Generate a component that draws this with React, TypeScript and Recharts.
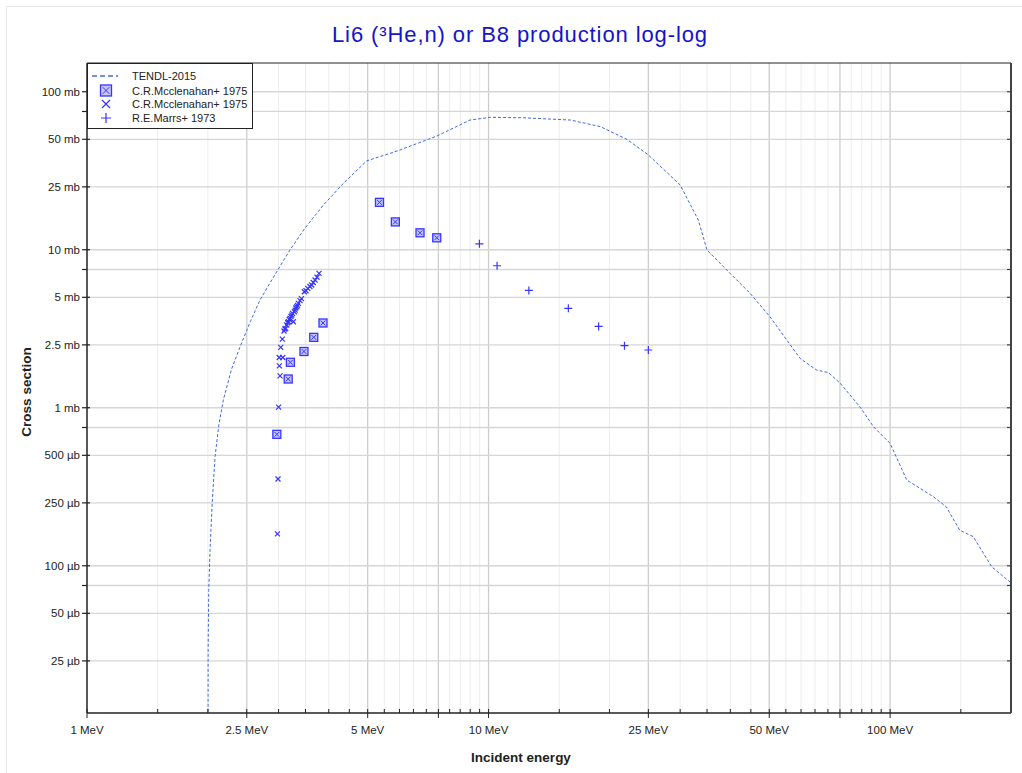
import { ComposedChart, Line, Scatter, XAxis, YAxis, ReferenceLine, Legend } from 'recharts'

// TENDL-2015 evaluated curve (MeV, mb)
const tendlEnergy = [
  2.0, 2.003, 2.01, 2.025, 2.05, 2.084, 2.13, 2.185, 2.29, 2.405, 2.55, 2.697, 2.884, 3.2, 3.49, 3.88,
  4.35, 4.97, 5.68, 6.02, 7.43, 8.99, 10.1, 12.2, 16, 19, 22.1, 25, 30, 33.3, 35, 39.2, 44.8, 50.2,
  59.7, 65.7, 70.2, 75.1, 84.2, 90.9, 100, 110, 128, 138, 149, 161, 179, 200,
]
const tendlSigma = [
  0.001, 0.03, 0.07, 0.126, 0.25, 0.49, 0.78, 1.12, 1.75, 2.43, 3.5, 4.81, 6.43, 9.95, 13.7, 19.2,
  26.3, 36.5, 40.7, 42.8, 52.4, 66.2, 68.9, 68.4, 66.2, 60.1, 50, 39.8, 25.7, 15.4, 9.95, 7.44, 5.3, 3.77,
  2.05, 1.73, 1.67, 1.43, 1.01, 0.758, 0.595, 0.349, 0.274, 0.236, 0.168, 0.153, 0.0986, 0.078,
]

// C.R.Mcclenahan+ 1975 (boxed)
const mccBoxEnergy = [2.97, 3.17, 3.21, 3.47, 3.67, 3.87, 5.35, 5.86, 6.75, 7.43]
const mccBoxSigma = [0.679, 1.52, 1.94, 2.27, 2.79, 3.44, 19.95, 15.0, 12.8, 11.9]

// C.R.Mcclenahan+ 1975 (crosses)
const mccXEnergy = [
  2.98, 2.99, 3.0, 3.025, 3.013, 3.01, 3.073, 3.037, 3.065, 3.095, 3.11, 3.126, 3.144, 3.16, 3.173,
  3.19, 3.204, 3.22, 3.235, 3.265, 3.25, 3.284, 3.3, 3.31, 3.329, 3.345, 3.36, 3.393, 3.42, 3.477,
  3.51, 3.546, 3.59, 3.628, 3.66, 3.698, 3.74, 3.783,
]
const mccXSigma = [
  0.159, 0.354, 1.01, 1.59, 1.84, 2.08, 2.08, 2.41, 2.72, 3.06, 3.15, 3.18, 3.34, 3.45, 3.5,
  3.62, 3.68, 3.78, 3.86, 3.5, 3.95, 4.05, 4.15, 4.28, 4.36, 4.45, 4.58, 4.76, 4.9, 5.42,
  5.5, 5.7, 5.85, 5.98, 6.2, 6.43, 6.7, 7.09,
]

// R.E.Marrs+ 1973
const marrsEnergy = [9.49, 10.5, 12.6, 15.8, 18.8, 21.8, 25.0]
const marrsSigma = [10.9, 7.92, 5.53, 4.26, 3.27, 2.47, 2.32]

const seriesNames = ['TENDL-2015', 'C.R.Mcclenahan+ 1975', 'C.R.Mcclenahan+ 1975', 'R.E.Marrs+ 1973']

const xTicks = [
  1, 1.5, 2, 2.5, 3, 3.5, 4, 4.5, 5, 5.5, 6, 6.5, 7, 7.5, 8, 8.5, 9, 9.5, 10, 15, 20, 25, 30, 35, 40,
  45, 50, 55, 60, 65, 70, 75, 80, 85, 90, 95, 100, 150,
]
const xMajor = [1, 2.5, 5, 7.5, 10, 25, 50, 75, 100]
const xLabelValues = [1, 2.5, 5, 10, 25, 50, 100]
const xLabelTexts = ['1 MeV', '2.5 MeV', '5 MeV', '10 MeV', '25 MeV', '50 MeV', '100 MeV']

const yTicks = [100, 75, 50, 25, 10, 7.5, 5, 2.5, 1, 0.75, 0.5, 0.25, 0.1, 0.075, 0.05, 0.025]
const yTickLabels = [
  '100 mb', '', '50 mb', '25 mb', '10 mb', '', '5 mb', '2.5 mb', '1 mb', '', '500 µb', '250 µb',
  '100 µb', '', '50 µb', '25 µb',
]

const zip = (es: number[], ss: number[]) => es.map((e, i) => ({ e, s: ss[i] }))
const tendl = zip(tendlEnergy, tendlSigma)
const mccBox = zip(mccBoxEnergy, mccBoxSigma)
const mccX = zip(mccXEnergy, mccXSigma)
const marrs = zip(marrsEnergy, marrsSigma)

const BLUE = '#3535ff'
const LINE_BLUE = '#4169e1'
const INK = '#222'

const BoxX = ({ cx, cy, r = 4 }: any) => {
  const k = r * 0.6
  return (
    <g>
      <rect x={cx - r} y={cy - r} width={2 * r} height={2 * r} fill="#c4c4ff" stroke={BLUE} strokeWidth={1.3} />
      <path d={`M${cx - k},${cy - k}L${cx + k},${cy + k}M${cx + k},${cy - k}L${cx - k},${cy + k}`} stroke={BLUE} strokeWidth={1} />
    </g>
  )
}

const Cross = ({ cx, cy, r = 2.5 }: any) => (
  <path d={`M${cx - r},${cy - r}L${cx + r},${cy + r}M${cx + r},${cy - r}L${cx - r},${cy + r}`} stroke={BLUE} strokeWidth={1.2} />
)

const Plus = ({ cx, cy, r = 4 }: any) => (
  <path d={`M${cx - r},${cy}L${cx + r},${cy}M${cx},${cy - r}L${cx},${cy + r}`} stroke={BLUE} strokeWidth={1.2} />
)

const BottomTick = (props: any) => {
  const { x, y, payload } = props
  const v = payload.value
  const li = xLabelValues.indexOf(v)
  const major = xMajor.includes(v)
  return (
    <g>
      <line x1={x} x2={x} y1={y - 4} y2={major ? y + 5 : y} stroke={INK} strokeWidth={1} />
      {li >= 0 && (
        <text x={x} y={y + 21} textAnchor="middle" fontSize={11.5} fill={INK}>
          {xLabelTexts[li]}
        </text>
      )}
    </g>
  )
}

const TopTick = (props: any) => {
  const { x, y } = props
  return <line x1={x} x2={x} y1={y} y2={y + 4} stroke={INK} strokeWidth={1} />
}

const LeftTick = (props: any) => {
  const { x, y, payload } = props
  const i = yTicks.indexOf(payload.value)
  const label = i >= 0 ? yTickLabels[i] : ''
  return (
    <g>
      <line x1={x - 5} x2={label ? x + 3 : x} y1={y} y2={y} stroke={INK} strokeWidth={1.2} />
      {label && (
        <text x={x - 7} y={y + 4} textAnchor="end" fontSize={11.5} fill={INK}>
          {label}
        </text>
      )}
    </g>
  )
}

const RightTick = (props: any) => {
  const { x, y } = props
  return <line x1={x - 4} x2={x} y1={y} y2={y} stroke="#444" strokeWidth={1.2} />
}

const LegendBox = () => {
  const rows = [13, 27.5, 41, 55]
  return (
    <svg width={166} height={66} style={{ display: 'block' }}>
      <rect x={0.5} y={0.5} width={165} height={65} fill="#fff" stroke={INK} strokeWidth={1} />
      <line x1={5} x2={31} y1={rows[0]} y2={rows[0]} stroke={LINE_BLUE} strokeWidth={1.3} strokeDasharray="5 3" />
      <BoxX cx={19} cy={rows[1]} r={5.5} />
      <Cross cx={19} cy={rows[2]} r={4} />
      <Plus cx={19} cy={rows[3]} r={5} />
      {seriesNames.map((n, i) => (
        <text key={i} x={45} y={rows[i] + 4} fontSize={11} fill={INK}>
          {n}
        </text>
      ))}
    </svg>
  )
}

export default function App() {
  return (
    <div
      style={{
        position: 'absolute',
        left: 0,
        top: 0,
        width: 1022,
        height: 773,
        background: '#fff',
        fontFamily: "'Liberation Sans', Arial, Helvetica, sans-serif",
      }}
    >
      <div
        style={{
          position: 'absolute',
          left: 6,
          top: 6,
          width: 1016,
          height: 767,
          borderLeft: '1px solid #e8e8e8',
          borderTop: '1px solid #e8e8e8',
        }}
      />
      <div
        style={{
          position: 'absolute',
          left: 0,
          top: 24,
          width: 1040,
          textAlign: 'center',
          fontSize: 22,
          lineHeight: '22px',
          letterSpacing: 0.9,
          color: '#1414c8',
        }}
      >
        Li6 (³He,n) or B8 production log-log
      </div>
      <div
        style={{
          position: 'absolute',
          left: 27 - 70,
          top: 392 - 9,
          width: 140,
          height: 18,
          lineHeight: '18px',
          textAlign: 'center',
          fontSize: 13.5,
          fontWeight: 'bold',
          color: INK,
          transform: 'rotate(-90deg)',
        }}
      >
        Cross section
      </div>
      <div
        style={{
          position: 'absolute',
          left: 521 - 100,
          top: 749,
          width: 200,
          textAlign: 'center',
          fontSize: 13.5,
          lineHeight: '18px',
          fontWeight: 'bold',
          color: INK,
        }}
      >
        Incident energy
      </div>
      <div style={{ position: 'absolute', left: 0, top: 0 }}>
        <ComposedChart width={1022} height={773} margin={{ top: 62, right: 10, bottom: 59, left: 86 }}>
          <XAxis
            xAxisId="x"
            type="number"
            dataKey="e"
            scale="log"
            domain={[1, 200]}
            allowDataOverflow
            ticks={xTicks}
            interval={0}
            height={1}
            tickSize={0}
            tickMargin={0}
            tickLine={false}
            tick={BottomTick}
            axisLine={{ stroke: INK, strokeWidth: 1.5 }}
          />
          <XAxis
            xAxisId="top"
            orientation="top"
            type="number"
            scale="log"
            domain={[1, 200]}
            allowDataOverflow
            ticks={xTicks}
            interval={0}
            height={1}
            tickSize={0}
            tickMargin={0}
            tickLine={false}
            tick={TopTick}
            axisLine={{ stroke: INK, strokeWidth: 1 }}
          />
          <YAxis
            yAxisId="y"
            type="number"
            dataKey="s"
            scale="log"
            domain={[0.0117, 152]}
            allowDataOverflow
            ticks={yTicks}
            interval={0}
            width={1}
            tickSize={0}
            tickMargin={0}
            tickLine={false}
            tick={LeftTick}
            axisLine={{ stroke: INK, strokeWidth: 1.5 }}
          />
          <YAxis
            yAxisId="r"
            orientation="right"
            type="number"
            scale="log"
            domain={[0.0117, 152]}
            allowDataOverflow
            ticks={yTicks}
            interval={0}
            width={1}
            tickSize={0}
            tickMargin={0}
            tickLine={false}
            tick={RightTick}
            axisLine={{ stroke: '#444', strokeWidth: 2 }}
          />

          {xTicks
            .filter((v) => v > 1)
            .map((v) => (
              <ReferenceLine
                key={`vx${v}`}
                xAxisId="x"
                yAxisId="y"
                x={v}
                stroke={xMajor.includes(v) ? '#cdcdcd' : '#ededed'}
                strokeWidth={xMajor.includes(v) ? 1.3 : 1}
              />
            ))}
          {yTicks.map((v) => (
            <ReferenceLine key={`hy${v}`} xAxisId="x" yAxisId="y" y={v} stroke="#d6d6d6" strokeWidth={1.3} />
          ))}

          <Line
            xAxisId="x"
            yAxisId="y"
            data={tendl}
            dataKey="s"
            name={seriesNames[0]}
            type="linear"
            stroke={LINE_BLUE}
            strokeWidth={1}
            strokeDasharray="3 2"
            dot={false}
            activeDot={false}
            isAnimationActive={false}
          />
          <Scatter
            xAxisId="x"
            yAxisId="y"
            data={mccX}
            dataKey="s"
            name={seriesNames[2]}
            shape={(p: any) => <Cross cx={p.cx} cy={p.cy} />}
            isAnimationActive={false}
          />
          <Scatter
            xAxisId="x"
            yAxisId="y"
            data={mccBox}
            dataKey="s"
            name={seriesNames[1]}
            shape={(p: any) => <BoxX cx={p.cx} cy={p.cy} />}
            isAnimationActive={false}
          />
          <Scatter
            xAxisId="x"
            yAxisId="y"
            data={marrs}
            dataKey="s"
            name={seriesNames[3]}
            shape={(p: any) => <Plus cx={p.cx} cy={p.cy} />}
            isAnimationActive={false}
          />
          <Legend
            layout="horizontal"
            align="center"
            verticalAlign="middle"
            wrapperStyle={{ left: 87, top: 63, width: 166, height: 66 }}
            content={() => <LegendBox />}
          />
        </ComposedChart>
      </div>
    </div>
  )
}
